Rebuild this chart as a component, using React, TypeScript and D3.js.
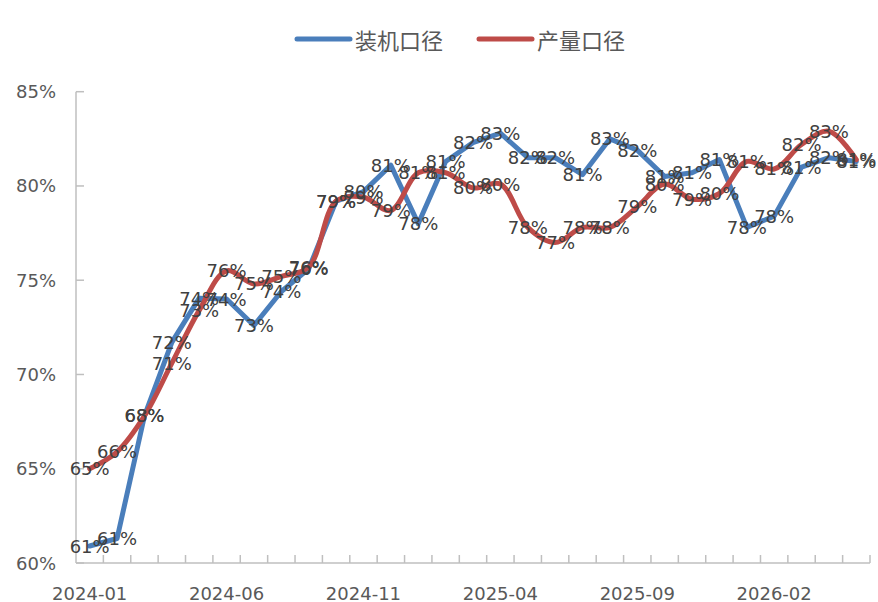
import React from "react";
import * as d3 from "d3";

const months: string[] = [
  "2024-01","2024-02","2024-03","2024-04","2024-05","2024-06","2024-07","2024-08","2024-09","2024-10",
  "2024-11","2024-12","2025-01","2025-02","2025-03","2025-04","2025-05","2025-06","2025-07","2025-08",
  "2025-09","2025-10","2025-11","2025-12","2026-01","2026-02","2026-03","2026-04","2026-05",
];
const installValues: number[] = [
  60.9, 61.3, 67.8, 71.7, 74.05, 74.0, 72.6, 74.4, 75.6, 79.2,
  79.7, 81.1, 78.0, 81.3, 82.3, 82.8, 81.5, 81.5, 80.6, 82.5,
  81.9, 80.5, 80.7, 81.4, 77.8, 78.4, 81.0, 81.5, 81.3,
];
const outputValues: number[] = [
  65.0, 65.9, 67.8, 70.6, 73.4, 75.5, 74.8, 75.2, 75.7, 79.2,
  79.4, 78.7, 80.7, 80.7, 79.9, 80.1, 77.8, 77.0, 77.8, 77.8,
  78.9, 80.1, 79.3, 79.6, 81.3, 80.9, 82.2, 82.9, 81.4,
];
const yTicks: number[] = [60, 65, 70, 75, 80, 85];
const seriesNames: string[] = ["装机口径", "产量口径"];
const seriesColors: string[] = ["#4A7EBB", "#BE4B48"];

export default function App() {
  const W = 878, H = 602;
  const left = 76, right = 870, top = 91.7, bottom = 563;
  const x = d3.scaleBand<string>().domain(months).range([left, right]);
  const cx = (m: string) => (x(m) as number) + x.bandwidth() / 2;
  const y = d3.scaleLinear().domain([60, 85]).range([bottom, top]);
  const font = "'DejaVu Sans', sans-serif";
  const mk = (vals: number[]) => vals.map((v, i) => [cx(months[i]), y(v)] as [number, number]);
  const blueLine = d3.line().curve(d3.curveLinear)(mk(installValues)) as string;
  const redLine = d3.line().curve(d3.curveCatmullRom.alpha(0.5))(mk(outputValues)) as string;
  const boundaries = months.map((m) => (x(m) as number) + x.bandwidth());
  const labelIdx = months.map((_, i) => i).filter((i) => i % 5 === 0);

  return (
    <svg width={W} height={H} style={{ position: "absolute", left: 0, top: 0 }}>
      <rect width={W} height={H} fill="#fff" />
      {/* legend */}
      <g>
        <line x1={297} x2={350} y1={39} y2={39} stroke={seriesColors[0]} strokeWidth={5} strokeLinecap="round" />
        <text x={355} y={39} dominantBaseline="central" fontFamily="'Noto Sans CJK SC', sans-serif" fontSize={22} fill="#595959">{seriesNames[0]}</text>
        <line x1={479} x2={532} y1={39} y2={39} stroke={seriesColors[1]} strokeWidth={5} strokeLinecap="round" />
        <text x={537} y={39} dominantBaseline="central" fontFamily="'Noto Sans CJK SC', sans-serif" fontSize={22} fill="#595959">{seriesNames[1]}</text>
      </g>
      {/* y axis */}
      <line x1={left} x2={left} y1={top} y2={bottom} stroke="#BFBFBF" strokeWidth={1.5} />
      {yTicks.map((t) => (
        <g key={t}>
          <line x1={left} x2={left + 8} y1={y(t)} y2={y(t)} stroke="#BFBFBF" strokeWidth={1.5} />
          <text x={56} y={y(t)} textAnchor="end" dominantBaseline="central" fontFamily={font} fontSize={18} fill="#595959">{t}%</text>
        </g>
      ))}
      {/* x axis */}
      <line x1={left} x2={right} y1={bottom} y2={bottom} stroke="#BFBFBF" strokeWidth={1.5} />
      {boundaries.map((bx, i) => (
        <line key={i} x1={bx} x2={bx} y1={bottom} y2={bottom - 8} stroke="#BFBFBF" strokeWidth={1.5} />
      ))}
      {labelIdx.map((i) => (
        <text key={i} x={cx(months[i])} y={593} textAnchor="middle" dominantBaseline="central" fontFamily={font} fontSize={18} fill="#595959">{months[i]}</text>
      ))}
      {/* lines */}
      <path d={blueLine} fill="none" stroke={seriesColors[0]} strokeWidth={5} strokeLinejoin="round" strokeLinecap="round" />
      <path d={redLine} fill="none" stroke={seriesColors[1]} strokeWidth={5} strokeLinejoin="round" strokeLinecap="round" />
      {/* labels */}
      {installValues.map((v, i) => (
        <text key={"b" + i} x={cx(months[i])} y={y(v)} textAnchor="middle" dominantBaseline="central" fontFamily={font} fontSize={18} fill="#404040">{Math.round(v)}%</text>
      ))}
      {outputValues.map((v, i) => (
        <text key={"r" + i} x={cx(months[i])} y={y(v)} textAnchor="middle" dominantBaseline="central" fontFamily={font} fontSize={18} fill="#404040">{Math.round(v)}%</text>
      ))}
    </svg>
  );
}
